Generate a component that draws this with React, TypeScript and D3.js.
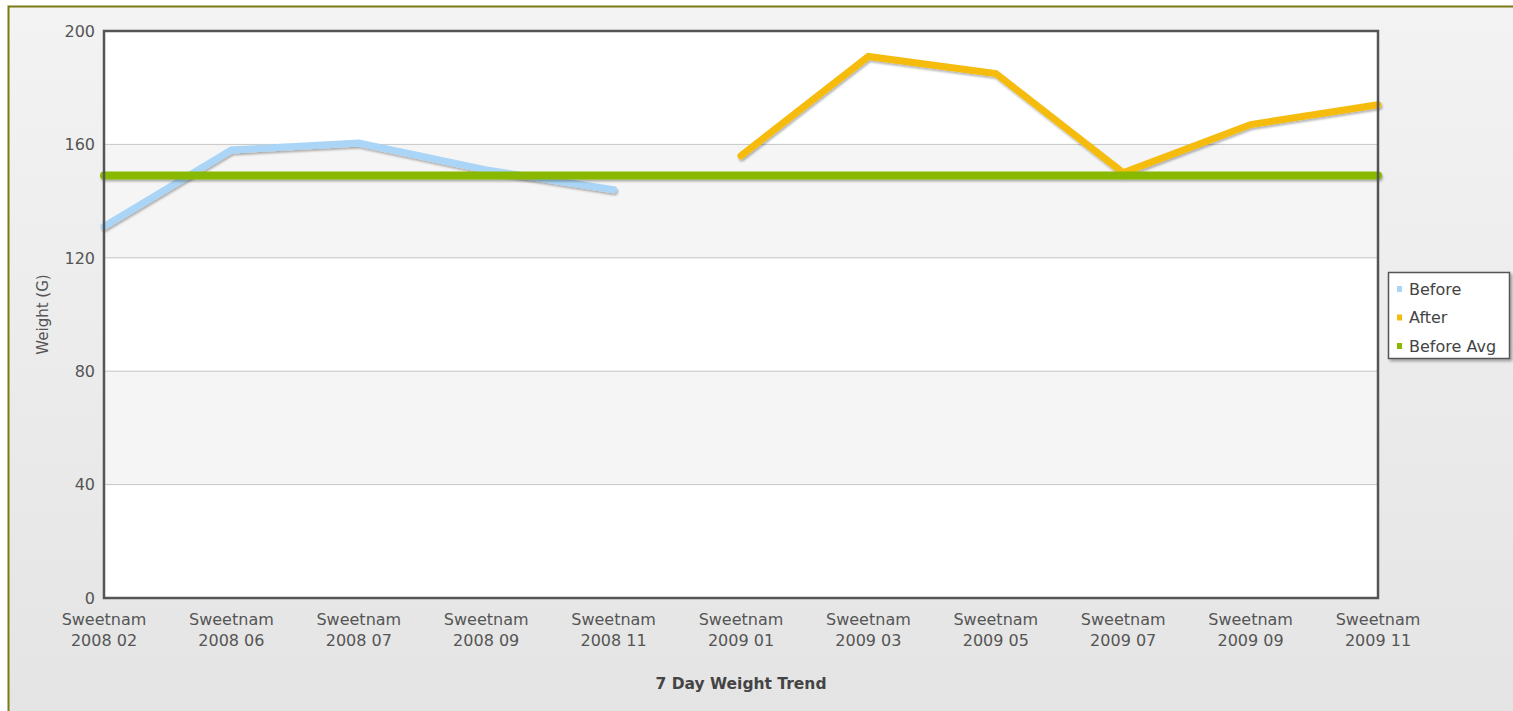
import * as d3 from "d3";

const categories = [
  "Sweetnam 2008 02",
  "Sweetnam 2008 06",
  "Sweetnam 2008 07",
  "Sweetnam 2008 09",
  "Sweetnam 2008 11",
  "Sweetnam 2009 01",
  "Sweetnam 2009 03",
  "Sweetnam 2009 05",
  "Sweetnam 2009 07",
  "Sweetnam 2009 09",
  "Sweetnam 2009 11",
];

// null where a series has no value for that month
const before = [131, 158, 160.5, 151, 144, null, null, null, null, null, null];
const after = [null, null, null, null, null, 156, 191, 185, 150, 167, 174];
const beforeAvg = [149, 149, 149, 149, 149, 149, 149, 149, 149, 149, 149];

const yTicks = [0, 40, 80, 120, 160, 200];

const series = [
  { name: "Before", values: before, color: "#aad5f6", width: 7 },
  { name: "After", values: after, color: "#f5bb0f", width: 7 },
  { name: "Before Avg", values: beforeAvg, color: "#88b800", width: 8 },
];

const W = 1513;
const H = 711;
const left = 104;
const right = 1378;
const top = 31;
const bottom = 598;
const font = "'DejaVu Sans', Verdana, sans-serif";

export default function App() {
  const x = d3.scalePoint<string>().domain(categories).range([left, right]);
  const y = d3.scaleLinear().domain([0, 200]).range([bottom, top]);

  const line = d3
    .line<number | null>()
    .defined((d) => d != null)
    .x((_, i) => x(categories[i]) ?? 0)
    .y((d) => y(d as number));

  const bands = d3.pairs(yTicks);

  return (
    <svg
      width={W}
      height={H}
      style={{ position: "absolute", left: 0, top: 0 }}
      fontFamily={font}
    >
      <defs>
        <linearGradient id="bg" x1="0" y1="0" x2="0" y2="1">
          <stop offset="0" stopColor="#f3f3f3" />
          <stop offset="1" stopColor="#e4e4e4" />
        </linearGradient>
        {/* user space region so the flat avg line still gets drawn */}
        <filter id="shadow" filterUnits="userSpaceOnUse" x={0} y={0} width={W} height={H}>
          <feDropShadow dx="1" dy="2" stdDeviation="1" floodColor="#000" floodOpacity="0.3" />
        </filter>
        <filter id="legendShadow" x="-10%" y="-10%" width="130%" height="130%">
          <feDropShadow dx="2" dy="2" stdDeviation="1.5" floodColor="#000" floodOpacity="0.35" />
        </filter>
      </defs>

      {/* outer panel */}
      <rect x={0} y={0} width={W} height={H} fill="#fff" />
      <rect x={8.5} y={6.5} width={W + 10} height={H + 10} fill="url(#bg)" stroke="#7a7a12" strokeWidth={2} />

      {/* alternating bands */}
      {bands.map(([a, b], i) => (
        <rect
          key={i}
          x={left}
          y={y(b)}
          width={right - left}
          height={y(a) - y(b)}
          fill={i % 2 === 1 ? "#f5f5f5" : "#ffffff"}
        />
      ))}

      {/* grid lines */}
      {yTicks.slice(1, -1).map((t) => (
        <line key={t} x1={left} x2={right} y1={y(t)} y2={y(t)} stroke="#c6c6c6" strokeWidth={1} />
      ))}

      {/* series */}
      {series.map((s) => (
        <path
          key={s.name}
          d={line(s.values) ?? undefined}
          fill="none"
          stroke={s.color}
          strokeWidth={s.width}
          strokeLinecap="round"
          strokeLinejoin="miter"
          filter="url(#shadow)"
        />
      ))}

      {/* plot frame */}
      <rect x={left} y={top} width={right - left} height={bottom - top} fill="none" stroke="#555" strokeWidth={2.5} />

      {/* y ticks */}
      {yTicks.map((t) => (
        <text key={t} x={95} y={y(t)} dy="0.36em" textAnchor="end" fontSize={16} fill="#555">
          {t}
        </text>
      ))}

      {/* x labels */}
      {categories.map((c) => {
        const [name, yr, mo] = c.split(" ");
        return (
          <text key={c} x={x(c)} textAnchor="middle" fontSize={16} fill="#555">
            <tspan x={x(c)} y={625}>{name}</tspan>
            <tspan x={x(c)} y={646}>{`${yr} ${mo}`}</tspan>
          </text>
        );
      })}

      {/* axis titles */}
      <text
        transform={`translate(48,${(top + bottom) / 2}) rotate(-90)`}
        textAnchor="middle"
        fontSize={15}
        fill="#555"
      >
        Weight (G)
      </text>
      <text x={(left + right) / 2} y={689} textAnchor="middle" fontSize={15.5} fontWeight="bold" fill="#444">
        7 Day Weight Trend
      </text>

      {/* legend */}
      <g transform="translate(1388,272)">
        <rect x={0.5} y={0.5} width={121} height={86} fill="#fff" stroke="#555" strokeWidth={1.5} filter="url(#legendShadow)" />
        {series.map((s, i) => (
          <g key={s.name} transform={`translate(0,${17 + i * 28.5})`}>
            <rect x={9} y={-3} width={5} height={6} fill={s.color} />
            <text x={21} dy="0.36em" fontSize={16} fill="#444">
              {s.name}
            </text>
          </g>
        ))}
      </g>
    </svg>
  );
}
